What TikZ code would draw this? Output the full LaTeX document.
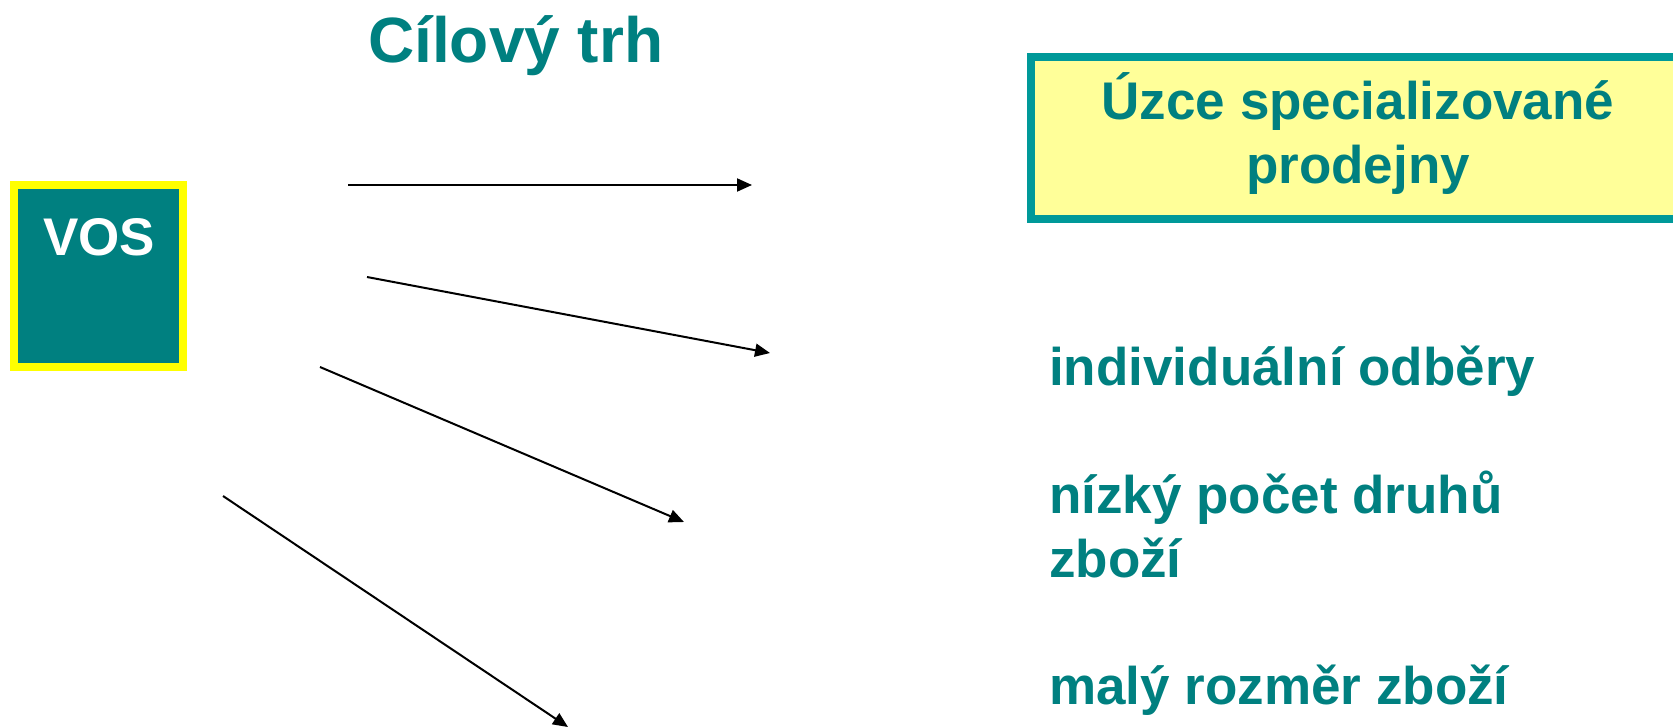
\documentclass[tikz,border=0pt]{standalone}
\usepackage{fontspec}
\setmainfont{Liberation Sans}
\usetikzlibrary{arrows.meta}
\definecolor{tealtxt}{HTML}{008080}
\definecolor{tealbd}{HTML}{009999}
\definecolor{paleyel}{HTML}{FFFF99}
\definecolor{brightyel}{HTML}{FFFF00}
\tikzset{
  txt/.style={inner sep=0pt, text=tealtxt, font=\fontsize{53}{64}\selectfont\bfseries},
  title/.style={inner sep=0pt, text=tealtxt, font=\fontsize{64}{77}\selectfont\bfseries},
  arr/.style={line width=2pt, -{Triangle[length=15pt,width=13pt]}},
}
\begin{document}
\begin{tikzpicture}[x=1pt,y=-1pt]
\useasboundingbox (0,0) rectangle (1673,726);
\clip (0,0) rectangle (1673,726);
% VOS box
\draw[line width=8pt, draw=brightyel, fill=tealtxt] (14,185) rectangle (183,367);
\node[inner sep=0pt, anchor=base, text=white, font=\fontsize{53}{64}\selectfont\bfseries] (vos) at (99,255) {VOS};
% title
\node[title, anchor=base west] (title) at (368,62) {Cílový trh};
% yellow box
\draw[line width=8pt, draw=tealbd, fill=paleyel] (1031,57) rectangle (1685,219);
\node[txt, anchor=base] (box1) at (1358,119) {Úzce specializované};
\node[txt, anchor=base] (box2) at (1358,183) {prodejny};
% right texts
\node[txt, anchor=base west] (t1) at (1049,385) {individuální odběry};
\node[txt, anchor=base west] (t2) at (1049,513) {nízký počet druhů};
\node[txt, anchor=base west] (t2b) at (1049,577) {zboží};
\node[txt, anchor=base west] (t3) at (1049,704) {malý rozměr zboží};
% arrows
\coordinate (a1s) at (348,185);
\coordinate (a1e) at (752,185);
\coordinate (a2s) at (367,277);
\coordinate (a2e) at (770,353);
\coordinate (a3s) at (320,367);
\coordinate (a3e) at (684,522);
\coordinate (a4s) at (223,496);
\coordinate (a4e) at (568,727);
\draw[arr] (a1s) -- (a1e);
\draw[arr] (a2s) -- (a2e);
\draw[arr] (a3s) -- (a3e);
\draw[arr] (a4s) -- (a4e);
\end{tikzpicture}
\end{document}
